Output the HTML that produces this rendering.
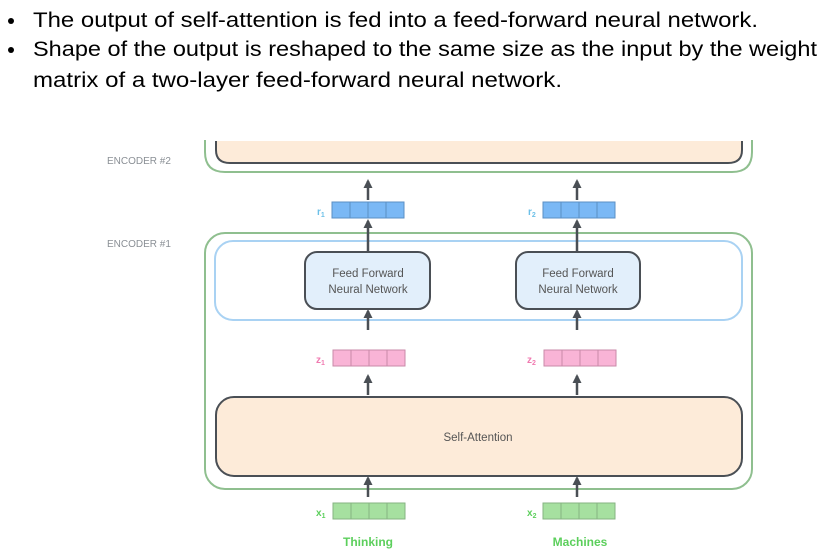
<!DOCTYPE html>
<html><head><meta charset="utf-8"><style>
html,body{margin:0;padding:0;background:#fff;}
svg{display:block;}
</style></head><body>
<svg width="823" height="560" viewBox="0 0 823 560" xmlns="http://www.w3.org/2000/svg" font-family="Liberation Sans, sans-serif">
<defs>
<marker id="ah" markerWidth="9" markerHeight="9" refX="7" refY="4.5" orient="auto" markerUnits="userSpaceOnUse">
<path d="M0,0 L9,4.5 L0,9 Z" fill="#4a4f55"/>
</marker>
</defs>
<g font-size="21" fill="#000">
<circle cx="11" cy="21" r="3"/>
<circle cx="11" cy="50" r="3"/>
<text x="33" y="27" textLength="725" lengthAdjust="spacingAndGlyphs">The output of self-attention is fed into a feed-forward neural network.</text>
<text x="33" y="56" textLength="784" lengthAdjust="spacingAndGlyphs">Shape of the output is reshaped to the same size as the input by the weight</text>
<text x="33" y="87" textLength="529" lengthAdjust="spacingAndGlyphs">matrix of a two-layer feed-forward neural network.</text>
</g>
<text x="107" y="164" font-size="10" fill="#8a8f95">ENCODER #2</text>
<path d="M205,140 L205,152 Q205,172 225,172 L732,172 Q752,172 752,152 L752,140" fill="none" stroke="#8fbf8f" stroke-width="2"/>
<path d="M216,140 L216,150 Q216,163 230,163 L728,163 Q742,163 742,150 L742,140 Z" fill="#fdebd9" stroke="#4a4f55" stroke-width="2"/>
<rect x="214" y="138" width="530" height="3" fill="#fff"/>
<text x="107" y="247" font-size="10" fill="#8a8f95">ENCODER #1</text>
<rect x="205" y="233" width="547" height="256" rx="20" fill="#fff" stroke="#8fbf8f" stroke-width="2"/>
<rect x="215" y="241" width="527" height="79" rx="18" fill="#fff" stroke="#a9d2f3" stroke-width="2"/>
<rect x="305" y="252" width="125" height="57" rx="12" fill="#e2effb" stroke="#4a4f55" stroke-width="2"/>
<rect x="516" y="252" width="124" height="57" rx="12" fill="#e2effb" stroke="#4a4f55" stroke-width="2"/>
<g font-size="11.5" fill="#555" text-anchor="middle">
<text x="368" y="277">Feed Forward</text><text x="368" y="293">Neural Network</text>
<text x="578" y="277">Feed Forward</text><text x="578" y="293">Neural Network</text>
</g>
<rect x="216" y="397" width="526" height="79" rx="18" fill="#fdebd9" stroke="#4a4f55" stroke-width="2"/>
<text x="478" y="441" font-size="11.5" fill="#555" text-anchor="middle">Self-Attention</text>
<g stroke="#4a4f55" stroke-width="2.5" marker-end="url(#ah)">
<line x1="368" y1="200" x2="368" y2="181"/>
<line x1="577" y1="200" x2="577" y2="181"/>
<line x1="368" y1="252" x2="368" y2="221"/>
<line x1="577" y1="252" x2="577" y2="221"/>
<line x1="368" y1="330" x2="368" y2="311"/>
<line x1="577" y1="330" x2="577" y2="311"/>
<line x1="368" y1="395" x2="368" y2="376"/>
<line x1="577" y1="395" x2="577" y2="376"/>
<line x1="368" y1="497" x2="368" y2="478"/>
<line x1="577" y1="497" x2="577" y2="478"/>
</g>
<g stroke-width="1">
<g fill="#7ab8f5" stroke="#5b8fc4">
<rect x="332" y="202" width="18" height="16"/><rect x="350" y="202" width="18" height="16"/><rect x="368" y="202" width="18" height="16"/><rect x="386" y="202" width="18" height="16"/>
<rect x="543" y="202" width="18" height="16"/><rect x="561" y="202" width="18" height="16"/><rect x="579" y="202" width="18" height="16"/><rect x="597" y="202" width="18" height="16"/>
</g>
<g fill="#f9b4d6" stroke="#c98aa8">
<rect x="333" y="350" width="18" height="16"/><rect x="351" y="350" width="18" height="16"/><rect x="369" y="350" width="18" height="16"/><rect x="387" y="350" width="18" height="16"/>
<rect x="544" y="350" width="18" height="16"/><rect x="562" y="350" width="18" height="16"/><rect x="580" y="350" width="18" height="16"/><rect x="598" y="350" width="18" height="16"/>
</g>
<g fill="#a6e0a0" stroke="#86b382">
<rect x="333" y="503" width="18" height="16"/><rect x="351" y="503" width="18" height="16"/><rect x="369" y="503" width="18" height="16"/><rect x="387" y="503" width="18" height="16"/>
<rect x="543" y="503" width="18" height="16"/><rect x="561" y="503" width="18" height="16"/><rect x="579" y="503" width="18" height="16"/><rect x="597" y="503" width="18" height="16"/>
</g>
</g>
<g font-size="10" font-weight="bold">
<text x="317" y="215" fill="#6cc0e8">r<tspan font-size="7" dy="2">1</tspan></text>
<text x="528" y="215" fill="#6cc0e8">r<tspan font-size="7" dy="2">2</tspan></text>
<text x="316" y="363" fill="#f07ab0">z<tspan font-size="7" dy="2">1</tspan></text>
<text x="527" y="363" fill="#f07ab0">z<tspan font-size="7" dy="2">2</tspan></text>
<text x="316" y="516" fill="#5ccf5c">x<tspan font-size="7" dy="2">1</tspan></text>
<text x="527" y="516" fill="#5ccf5c">x<tspan font-size="7" dy="2">2</tspan></text>
</g>
<g font-size="12" font-weight="bold" fill="#5ccf5c" text-anchor="middle">
<text x="368" y="546">Thinking</text>
<text x="580" y="546">Machines</text>
</g>
</svg>
</body></html>
